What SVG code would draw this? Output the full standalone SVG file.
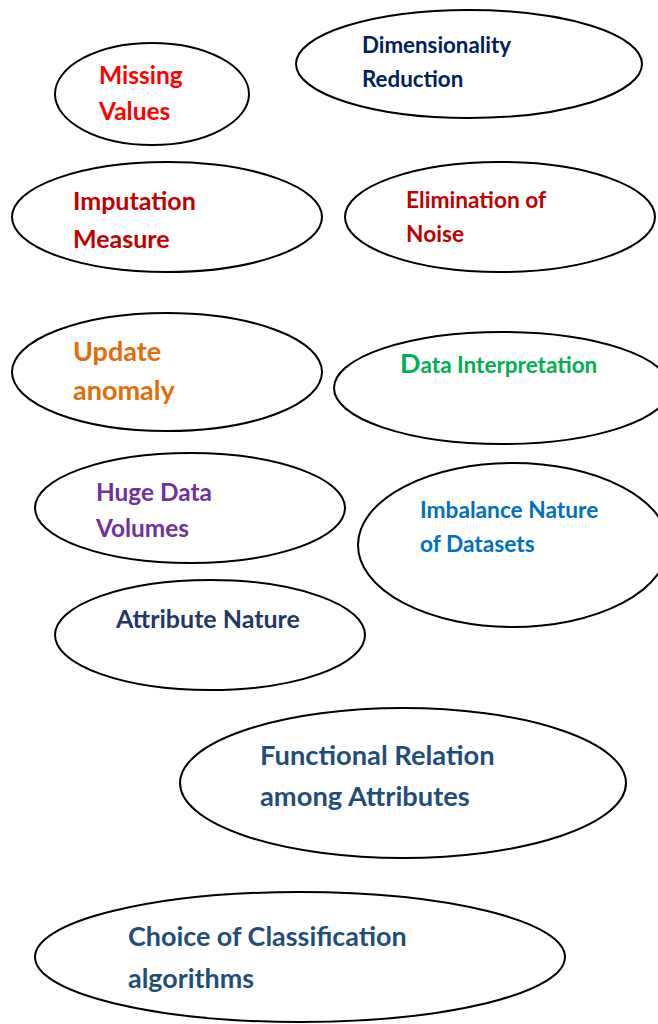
<svg xmlns="http://www.w3.org/2000/svg" width="658" height="1024" viewBox="0 0 658 1024">
<style>
.n{fill:#fff;stroke:#000;stroke-width:2}
text{font-family:Lato,"Liberation Sans",sans-serif;font-weight:bold}
</style>
<rect width="658" height="1024" fill="#fff"/>
<g id="connectors"></g>
<g id="missing"><ellipse class="n" cx="152" cy="94" rx="97" ry="51"/><text x="99" y="84" font-size="24.5" fill="#FF0000">Missing</text><text x="99" y="120" font-size="24.5" fill="#FF0000">Values</text></g>
<g id="dimred"><ellipse class="n" cx="469" cy="64" rx="173" ry="54"/><text x="362" y="53" font-size="22.3" fill="#002060">Dimensionality</text><text x="362" y="87" font-size="22.3" fill="#002060">Reduction</text></g>
<g id="imputation"><ellipse class="n" cx="167" cy="217" rx="155" ry="55"/><text x="73" y="210" font-size="25" fill="#C00000">Imputation</text><text x="73" y="248" font-size="25" fill="#C00000">Measure</text></g>
<g id="noise"><ellipse class="n" cx="500" cy="217" rx="155" ry="55"/><text x="406" y="208" font-size="22.7" fill="#C00000">Elimination of</text><text x="406" y="242" font-size="22.7" fill="#C00000">Noise</text></g>
<g id="update"><ellipse class="n" cx="167" cy="372" rx="155" ry="59"/><text x="73" y="361" font-size="27" fill="#E36C0A">Update</text><text x="73" y="400" font-size="27" fill="#E36C0A">anomaly</text></g>
<g id="interp"><ellipse class="n" cx="502" cy="388" rx="168" ry="56"/><text x="400" y="373" font-size="22.5" fill="#00B050"><tspan font-size="27">D</tspan>ata Interpretation</text></g>
<g id="huge"><ellipse class="n" cx="190" cy="508" rx="155" ry="55"/><text x="96" y="501" font-size="24.4" fill="#7030A0">Huge Data</text><text x="96" y="537" font-size="24.4" fill="#7030A0">Volumes</text></g>
<g id="imbalance"><ellipse class="n" cx="513" cy="545" rx="155" ry="82"/><text x="420" y="518" font-size="22.7" fill="#0070C0">Imbalance Nature</text><text x="420" y="552" font-size="22.7" fill="#0070C0">of Datasets</text></g>
<g id="attribute"><ellipse class="n" cx="210" cy="635" rx="155" ry="55"/><text x="116" y="628" font-size="25" fill="#1F3864">Attribute Nature</text></g>
<g id="functional"><ellipse class="n" cx="403" cy="783" rx="223" ry="75"/><text x="260" y="765" font-size="27.3" fill="#1F4E79">Functional Relation</text><text x="260" y="806" font-size="27.3" fill="#1F4E79">among Attributes</text></g>
<g id="choice"><ellipse class="n" cx="300" cy="957" rx="265" ry="65"/><text x="128" y="946" font-size="26.9" fill="#1F4E79">Choice of Classification</text><text x="128" y="988" font-size="26.9" fill="#1F4E79">algorithms</text></g>
</svg>
